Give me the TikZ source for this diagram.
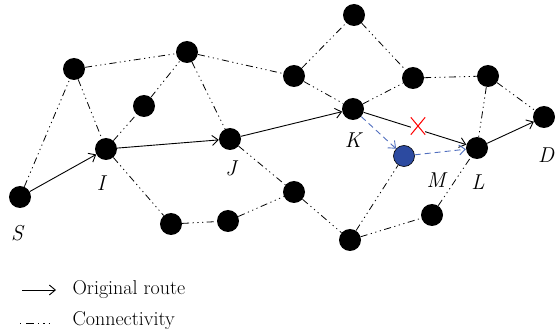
\documentclass[tikz,border=0pt]{standalone}
\usepackage{fontspec}
\usetikzlibrary{arrows.meta}
\definecolor{mblue}{RGB}{44,74,160}
\definecolor{dblue}{RGB}{80,110,190}
\begin{document}
\begin{tikzpicture}[x=1pt,y=-1pt,
  vtx/.style={circle,fill=black,minimum size=22pt,inner sep=0pt},
  conn/.style={line width=0.8pt,dash pattern=on 7pt off 3.5pt on 1.2pt off 3.5pt on 1.2pt off 3.5pt on 1.2pt off 3.5pt},
  route/.style={line width=0.9pt,-{Straight Barb[length=6pt,width=10pt]}},
  detour/.style={dblue,line width=0.9pt,dash pattern=on 6pt off 4pt,-{Straight Barb[length=6pt,width=10pt]}},
  lab/.style={font=\fontsize{21.5}{24}\selectfont\itshape},
  legtext/.style={font=\fontsize{20}{23}\selectfont,anchor=west}]
\useasboundingbox (0,0) rectangle (555,334);
% nodes
\node[vtx] (S) at (20,197) {};
\node[vtx] (A1) at (74,69) {};
\node[vtx] (I) at (106,149) {};
\node[vtx] (A2) at (144,106) {};
\node[vtx] (A3) at (187,52) {};
\node[vtx] (J) at (230,139) {};
\node[vtx] (B1) at (171,224) {};
\node[vtx] (B2) at (228,221) {};
\node[vtx] (B3) at (294,192) {};
\node[vtx] (B4) at (350,240) {};
\node[vtx] (B5) at (432,215) {};
\node[vtx] (T1) at (354,15) {};
\node[vtx] (C1) at (294,76) {};
\node[vtx] (C2) at (413,78) {};
\node[vtx] (C3) at (488,76) {};
\node[vtx] (K) at (353,109) {};
\node[vtx] (L) at (477,148) {};
\node[vtx] (D) at (544,117) {};
\node[circle,fill=mblue,draw=black,line width=0.6pt,minimum size=21pt,inner sep=0pt] (M) at (404,156) {};
% labels
\node[lab] (lS) at (17,233) {S};
\node[lab] (lI) at (101,183) {I};
\node[lab] (lJ) at (231,168) {J};
\node[lab] (lK) at (353,140) {K};
\node[lab] (lM) at (436,180) {M};
\node[lab] (lL) at (478,182) {L};
\node[lab] (lD) at (546,155) {D};
% connectivity
\draw[conn] (S) -- (A1);
\draw[conn] (A1) -- (I);
\draw[conn] (A1) -- (A3);
\draw[conn] (I) -- (A2);
\draw[conn] (A2) -- (A3);
\draw[conn] (A3) -- (J);
\draw[conn] (A3) -- (C1);
\draw[conn] (I) -- (B1);
\draw[conn] (B1) -- (B2);
\draw[conn] (B2) -- (B3);
\draw[conn] (J) -- (B3);
\draw[conn] (B3) -- (B4);
\draw[conn] (B4) -- (M);
\draw[conn] (B4) -- (B5);
\draw[conn] (B5) -- (L);
\draw[conn] (C1) -- (T1);
\draw[conn] (C1) -- (K);
\draw[conn] (T1) -- (C2);
\draw[conn] (K) -- (C2);
\draw[conn] (C2) -- (C3);
\draw[conn] (C3) -- (L);
\draw[conn] (C3) -- (D);
% original route
\draw[route] (S) -- (I);
\draw[route] (I) -- (J);
\draw[route] (J) -- (K);
\draw[route] (K) -- (L);
\draw[route] (L) -- (D);
% broken link mark
\node[fill=white,minimum width=14pt,minimum height=17pt,inner sep=0pt] (X) at (418,126) {};
\draw[red,line width=1pt] (X.south west) -- (X.north east) (X.north west) -- (X.south east);
% detour
\draw[detour] (K) -- (M);
\draw[detour] (M) -- (L);
% legend
\coordinate (r1) at (22,290);
\coordinate (r2) at (56,290);
\coordinate (c1) at (20,323);
\coordinate (c2) at (56,323);
\draw[line width=0.9pt,-{Straight Barb[length=6pt,width=10pt]}] (r1) -- (r2);
\draw[line width=0.8pt,dash pattern=on 1.2pt off 5pt on 8pt off 4pt on 1.2pt off 4pt on 1.2pt off 4pt on 1.2pt off 10pt] (c1) -- (c2);
\node[legtext] (t1) at (69,290) {Original route};
\node[legtext] (t2) at (69,321) {Connectivity};
\end{tikzpicture}
\end{document}
